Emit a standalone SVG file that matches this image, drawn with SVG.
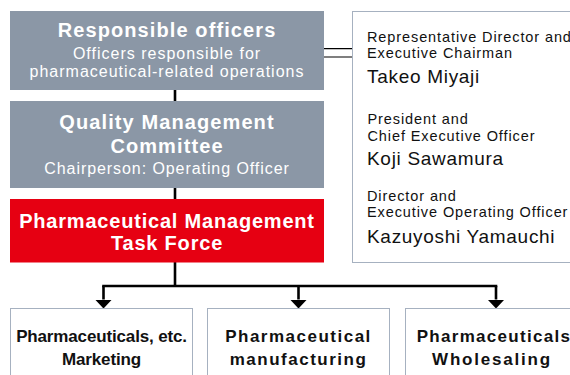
<svg xmlns="http://www.w3.org/2000/svg" width="570" height="375" viewBox="0 0 570 375">
<style>
.gray{fill:#8b97a6}
.red{fill:#e60012}
.box{fill:#fff;stroke:#a6b1c0;stroke-width:1}
.wt{fill:#fff;font-family:"Liberation Sans",Arial,sans-serif;text-anchor:middle}
.h{font-weight:bold;font-size:20px;letter-spacing:1.1px}
.s{font-size:16px;letter-spacing:1px}
.bt{fill:#111;font-family:"Liberation Sans",Arial,sans-serif;font-weight:bold;font-size:17px;text-anchor:middle}
.pt{fill:#111;font-family:"Liberation Sans",Arial,sans-serif;font-size:14.5px;letter-spacing:0.9px}
.pn{fill:#111;font-family:"Liberation Sans",Arial,sans-serif;font-size:19px;letter-spacing:0.7px}
.ln{fill:none;stroke:#000;stroke-width:2.6}
.thin{fill:none;stroke:#000;stroke-width:1.2}
</style>
<defs>
<marker id="ah" markerUnits="userSpaceOnUse" viewBox="0 -8.5 9 17" refX="0" refY="0" markerWidth="9" markerHeight="17" orient="auto">
<path d="M0,-8.5 L9,0 L0,8.5 Z" fill="#000"/>
</marker>
</defs>
<g id="connectors">
<path class="ln" d="M175,90 V101"/>
<path class="ln" d="M175,188 V199"/>
<path class="ln" d="M175,262 V286"/>
<path class="ln" d="M103.5,286 H496" stroke-linecap="square"/>
<path class="ln" d="M103.5,286 V299.5" marker-end="url(#ah)"/>
<path class="ln" d="M298.5,286 V299.5" marker-end="url(#ah)"/>
<path class="ln" d="M496,286 V299.5" marker-end="url(#ah)"/>
<path class="thin" d="M324,48.7 H352.5 M324,57 H352.5"/>
</g>
<g id="responsible-officers">
<rect class="gray" x="10" y="11" width="314" height="79"/>
<text class="wt h" x="167" y="37">Responsible officers</text>
<text class="wt s" x="167" y="59">Officers responsible for</text>
<text class="wt s" x="167" y="76.5">pharmaceutical-related operations</text>
</g>
<g id="quality-committee">
<rect class="gray" x="10" y="101" width="314" height="87"/>
<text class="wt h" x="167" y="128.5">Quality Management</text>
<text class="wt h" x="167" y="152.5">Committee</text>
<text class="wt s" x="167" y="173.5" style="letter-spacing:0.93px">Chairperson: Operating Officer</text>
</g>
<g id="task-force">
<rect class="red" x="10" y="199" width="314" height="63.5"/>
<text class="wt h" x="167" y="227.5" style="letter-spacing:0.8px">Pharmaceutical Management</text>
<text class="wt h" x="167" y="250" style="letter-spacing:0.8px">Task Force</text>
</g>
<g id="officers-panel">
<rect class="box" x="352.5" y="11.5" width="230" height="251"/>
<text class="pt" x="367" y="42.3">Representative Director and</text>
<text class="pt" x="367" y="57.7">Executive Chairman</text>
<text class="pn" x="367" y="83.3">Takeo Miyaji</text>
<text class="pt" x="367.5" y="124">President and</text>
<text class="pt" x="367.5" y="141.3">Chief Executive Officer</text>
<text class="pn" x="367" y="165">Koji Sawamura</text>
<text class="pt" x="367" y="200.7">Director and</text>
<text class="pt" x="367" y="217.3">Executive Operating Officer</text>
<text class="pn" x="367" y="242.7">Kazuyoshi Yamauchi</text>
</g>
<g id="marketing">
<rect class="box" x="10.5" y="308.5" width="182" height="80"/>
<text class="bt" x="101.5" y="342.3" style="letter-spacing:-0.15px">Pharmaceuticals, etc.</text>
<text class="bt" x="101.5" y="365" style="letter-spacing:-0.15px">Marketing</text>
</g>
<g id="manufacturing">
<rect class="box" x="207.5" y="308.5" width="182" height="80"/>
<text class="bt" x="298.5" y="341.7" style="letter-spacing:1.5px">Pharmaceutical</text>
<text class="bt" x="298.5" y="365" style="letter-spacing:1.5px">manufacturing</text>
</g>
<g id="wholesaling">
<rect class="box" x="405.5" y="308.5" width="182" height="80"/>
<text class="bt" x="494" y="341.7" style="letter-spacing:1.3px">Pharmaceuticals</text>
<text class="bt" x="492" y="365" style="letter-spacing:1.8px">Wholesaling</text>
</g>
</svg>
